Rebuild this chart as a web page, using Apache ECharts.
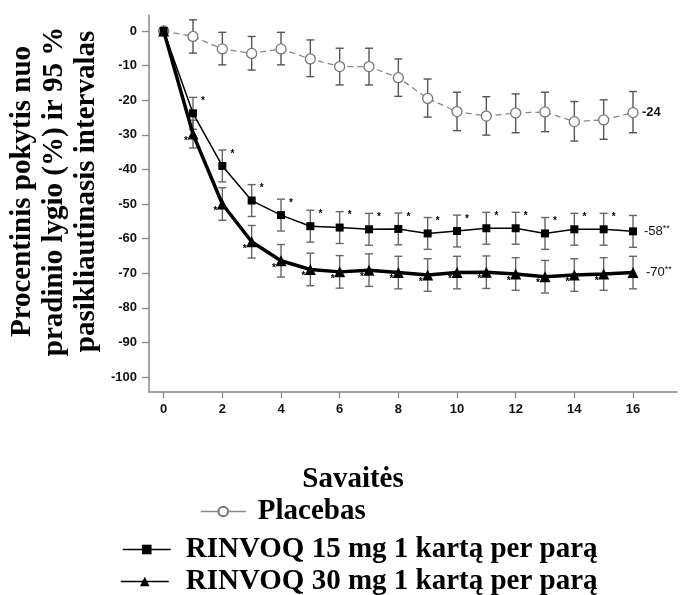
<!DOCTYPE html>
<html><head><meta charset="utf-8">
<script src="https://cdn.jsdelivr.net/npm/echarts@6/dist/echarts.min.js"></script>
<style>html,body{margin:0;padding:0;background:#fff}#c{width:680px;height:595px}</style>
</head><body><div id="c"></div>
<script>
const weeks = [0,1,2,3,4,5,6,7,8,9,10,11,12,13,14,15,16];
const xTicks = [0,2,4,6,8,10,12,14,16];
const yTicks = [0,-10,-20,-30,-40,-50,-60,-70,-80,-90,-100];

const nameP = 'Placebas';
const name15 = 'RINVOQ 15 mg 1 kartą per parą';
const name30 = 'RINVOQ 30 mg 1 kartą per parą';

const placebo     = [0,-1.6,-5.2,-6.5,-5.2,-8.1,-10.3,-10.3,-13.5,-19.5,-23.3,-24.6,-23.7,-23.4,-26.2,-25.7,-23.6];
const placeboLow  = [null,-6.4,-9.8,-11.3,-9.8,-13.2,-15.6,-15.6,-18.9,-24.9,-28.8,-30.1,-29.4,-29.1,-31.8,-31.3,-29.4];
const placeboHigh = [null,3.2,-0.4,-1.6,-0.4,-2.6,-5.0,-5.0,-8.1,-13.9,-17.7,-19.0,-18.2,-17.7,-20.4,-19.9,-17.5];

const r15     = [0,-23.8,-39.0,-49.0,-53.2,-56.4,-56.8,-57.3,-57.2,-58.5,-57.8,-57.0,-57.0,-58.5,-57.3,-57.3,-57.9];
const r15Low  = [null,-28.4,-43.6,-53.6,-57.8,-61.0,-61.4,-61.9,-61.8,-63.1,-62.4,-61.6,-61.6,-63.1,-61.9,-61.9,-62.5];
const r15High = [null,-19.2,-34.4,-44.4,-48.6,-51.8,-52.2,-52.7,-52.6,-53.9,-53.2,-52.4,-52.4,-53.9,-52.7,-52.7,-53.3];
const r15Stars = ['','*','*','*','*','*','*','*','*','*','*','*','*','*','*','*',''];

const r30     = [0,-29.8,-50.0,-60.9,-66.4,-68.9,-69.6,-69.1,-69.8,-70.5,-69.8,-69.7,-70.2,-71.0,-70.5,-70.2,-69.8];
const r30Low  = [null,-33.8,-54.7,-65.6,-71.1,-73.6,-74.3,-73.8,-74.5,-75.2,-74.5,-74.4,-74.9,-75.7,-75.2,-74.9,-74.5];
const r30High = [null,-25.8,-45.3,-56.2,-61.7,-64.2,-64.9,-64.4,-65.1,-65.8,-65.1,-65.0,-65.5,-66.3,-65.8,-65.5,-65.1];
const r30Stars = ['','*','*','*','*','*','*','*','*','*','*','*','*','*','*','*',''];

const pairs = (vals) => weeks.map((w, i) => [w, vals[i]]);
const errData = (lo, hi, mean) => weeks.map((w, i) => [w, lo[i], hi[i], mean[i]]);

function errRenderer(color, stars, starPos) {
  return function (params, api) {
    const x = api.value(0), lo = api.value(1), hi = api.value(2), m = api.value(3);
    if (lo == null || isNaN(lo)) return null;
    const pLo = api.coord([x, lo]), pHi = api.coord([x, hi]), pM = api.coord([x, m]);
    const cw = 4;
    const st = {stroke: color, lineWidth: 1.4};
    const children = [
      {type: 'line', shape: {x1: pHi[0], y1: pHi[1], x2: pLo[0], y2: pLo[1]}, style: st},
      {type: 'line', shape: {x1: pHi[0] - cw, y1: pHi[1], x2: pHi[0] + cw, y2: pHi[1]}, style: st},
      {type: 'line', shape: {x1: pLo[0] - cw, y1: pLo[1], x2: pLo[0] + cw, y2: pLo[1]}, style: st}
    ];
    const s = stars ? stars[params.dataIndex] : '';
    if (s) {
      let tx, ty;
      if (starPos === 'top') { tx = pHi[0] + 10; ty = pHi[1] + 4; }
      else { tx = pM[0] - 7; ty = pM[1] + 7; }
      children.push({type: 'text', x: tx, y: ty,
        style: {text: s, fill: '#000', font: 'bold 10px "Liberation Sans", Arial', align: 'center', verticalAlign: 'middle'}});
    }
    return {type: 'group', children};
  };
}

const legendText = {fontFamily: '"Liberation Serif", "Times New Roman", serif', fontWeight: 'bold', fontSize: 29, color: '#000'};
const tickText = {fontFamily: '"Liberation Sans", Arial', fontWeight: 'bold', fontSize: 13, color: '#111'};

const chart = echarts.init(document.getElementById('c'), null, {renderer: 'canvas'});
chart.setOption({
  animation: false,
  backgroundColor: '#fff',
  grid: {left: 149, right: 3, top: 15, bottom: 203, containLabel: false, outerBoundsMode: 'none'},
  xAxis: {
    type: 'value', min: -0.5, max: 17.5,
    name: 'Savaitės', nameLocation: 'middle', nameGap: 73, nameMoveOverlap: false,
    nameTextStyle: Object.assign({}, legendText, {padding: [0, 120, 0, 0]}),
    axisLine: {show: true, onZero: false, lineStyle: {color: '#888', width: 1.5}},
    axisTick: {show: true, customValues: xTicks, length: 6, lineStyle: {color: '#888', width: 1.3}},
    axisLabel: Object.assign({customValues: xTicks, margin: 11}, tickText),
    splitLine: {show: false}
  },
  yAxis: {
    type: 'value', min: -104.3, max: 4.6,
    name: 'Procentinis pokytis nuo\npradinio lygio (%) ir 95 %\npasikliautinasis intervalas',
    nameLocation: 'middle', nameRotate: 90, nameGap: 46, nameMoveOverlap: false,
    nameTextStyle: Object.assign({}, legendText, {lineHeight: 32, padding: [0, 0, 0, 24]}),
    axisLine: {show: true, onZero: false, lineStyle: {color: '#888', width: 1.5}},
    axisTick: {show: true, customValues: yTicks, length: 7, lineStyle: {color: '#888', width: 1.3}},
    axisLabel: Object.assign({customValues: yTicks, margin: 12}, tickText),
    splitLine: {show: false}
  },
  legend: [
    {data: [nameP], left: 200, top: 497, padding: 0, itemWidth: 45, itemHeight: 12,
     lineStyle: {width: 1.5, type: 'solid'}, textStyle: Object.assign({}, legendText, {padding: [0, 0, 0, 7]})},
    {data: [name15], left: 122, top: 535, padding: 0, itemWidth: 48, itemHeight: 12,
     lineStyle: {width: 1.5}, textStyle: Object.assign({}, legendText, {padding: [0, 0, 0, 10]})},
    {data: [name30], left: 120, top: 567, padding: 0, itemWidth: 48, itemHeight: 12,
     lineStyle: {width: 1.5}, textStyle: Object.assign({}, legendText, {padding: [0, 0, 0, 12]})}
  ],
  series: [
    {type: 'custom', name: 'ciP', z: 1, renderItem: errRenderer('#555', null, null),
     data: errData(placeboLow, placeboHigh, placebo), silent: true},
    {type: 'custom', name: 'ci15', z: 1, renderItem: errRenderer('#666', r15Stars, 'top'),
     data: errData(r15Low, r15High, r15), silent: true},
    {type: 'custom', name: 'ci30', z: 1, renderItem: errRenderer('#666', r30Stars, 'left'),
     data: errData(r30Low, r30High, r30), silent: true},
    {type: 'line', name: nameP, z: 3, data: pairs(placebo), symbol: 'circle', symbolSize: 10,
     itemStyle: {color: '#fff', borderColor: '#777', borderWidth: 1.3},
     lineStyle: {color: '#888', width: 1.3, type: [6, 4]},
     endLabel: {show: true, distance: 9, formatter: (p) => String(Math.round(p.value[1])),
       fontFamily: '"Liberation Sans", Arial', fontWeight: 'bold', fontSize: 13, color: '#111'}},
    {type: 'line', name: name15, z: 4, data: pairs(r15), symbol: 'rect', symbolSize: 8,
     itemStyle: {color: '#000'}, lineStyle: {color: '#000', width: 1.5},
     endLabel: {show: true, distance: 11, formatter: (p) => '{a|' + Math.round(p.value[1]) + '}{b|**}',
       rich: {a: {fontFamily: '"Liberation Sans", Arial', fontSize: 13, color: '#111'},
              b: {fontFamily: '"Liberation Sans", Arial', fontSize: 9, color: '#111', padding: [0, 0, 6, 0]}}}},
    {type: 'line', name: name30, z: 5, data: pairs(r30), symbol: 'triangle', symbolSize: 11,
     itemStyle: {color: '#000'}, lineStyle: {color: '#000', width: 3.5},
     endLabel: {show: true, distance: 13, formatter: (p) => '{a|' + Math.round(p.value[1]) + '}{b|**}',
       rich: {a: {fontFamily: '"Liberation Sans", Arial', fontSize: 13, color: '#111'},
              b: {fontFamily: '"Liberation Sans", Arial', fontSize: 9, color: '#111', padding: [0, 0, 6, 0]}}}}
  ]
});
</script></body></html>
